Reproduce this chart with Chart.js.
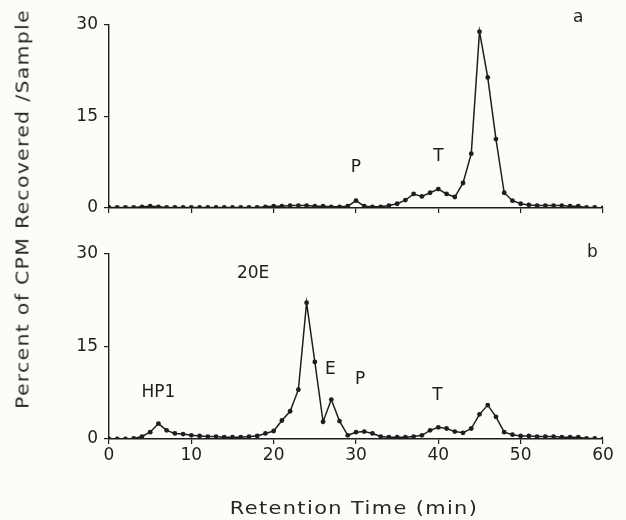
<!DOCTYPE html>
<html>
<head>
<meta charset="utf-8">
<script src="https://cdn.jsdelivr.net/npm/chart.js@4.4.1/dist/chart.umd.min.js"></script>
<style>
  html, body { margin: 0; padding: 0; background: #fdfcf8; }
  #figure { position: relative; width: 626px; height: 520px; background: #fdfcf8; overflow: hidden; }
  #panel-a-wrap { position: absolute; left: 0; top: 0; width: 626px; height: 232px; }
  #panel-b-wrap { position: absolute; left: 0; top: 232px; width: 626px; height: 288px; }
  .axis-title {
    position: absolute; white-space: nowrap; color: #262626;
    font: 18px 'DejaVu Sans'; letter-spacing: 1.2px;
  }
  #y-title {
    left: 22px; top: 209px;
    transform: translate(-50%, -50%) rotate(-90deg) scaleX(1.13);
  }
  #x-title {
    left: 354px; top: 507px;
    transform: translate(-50%, -50%) scaleX(1.16);
  }
</style>
</head>
<body>
<div id="figure">
  <div id="panel-a-wrap"><canvas id="panel-a"></canvas></div>
  <div id="panel-b-wrap"><canvas id="panel-b"></canvas></div>
  <div id="y-title" class="axis-title">Percent of CPM Recovered /Sample</div>
  <div id="x-title" class="axis-title">Retention Time (min)</div>
</div>
<script>
// fraction number (min) for every collected sample
const retentionTimes = [
  0, 1, 2, 3, 4, 5, 6, 7, 8, 9,
  10, 11, 12, 13, 14, 15, 16, 17, 18, 19,
  20, 21, 22, 23, 24, 25, 26, 27, 28, 29,
  30, 31, 32, 33, 34, 35, 36, 37, 38, 39,
  40, 41, 42, 43, 44, 45, 46, 47, 48, 49,
  50, 51, 52, 53, 54, 55, 56, 57, 58, 59, 60
];

// panel a
const percentA = [
  0.1, 0.1, 0.1, 0.1, 0.2, 0.3, 0.2, 0.1, 0.1, 0.1,
  0.1, 0.1, 0.1, 0.1, 0.1, 0.1, 0.1, 0.1, 0.1, 0.2,
  0.3, 0.3, 0.4, 0.4, 0.4, 0.3, 0.3, 0.2, 0.2, 0.3,
  1.2, 0.3, 0.2, 0.2, 0.4, 0.7, 1.3, 2.3, 1.9, 2.5,
  3.1, 2.3, 1.8, 4.1, 8.9, 28.9, 21.4, 11.3, 2.5, 1.2,
  0.7, 0.5, 0.4, 0.4, 0.4, 0.4, 0.3, 0.3, 0.1, 0.1, 0.0
];

// panel b
const percentB = [
  0.0, 0.0, 0.0, 0.1, 0.4, 1.1, 2.5, 1.4, 0.9, 0.8,
  0.6, 0.5, 0.4, 0.4, 0.3, 0.3, 0.3, 0.4, 0.5, 0.9,
  1.3, 3.0, 4.5, 8.0, 22.1, 12.5, 2.8, 6.4, 2.9, 0.6,
  1.1, 1.2, 0.9, 0.4, 0.3, 0.3, 0.3, 0.4, 0.6, 1.4,
  1.9, 1.7, 1.2, 1.0, 1.7, 4.0, 5.5, 3.6, 1.1, 0.7,
  0.5, 0.5, 0.4, 0.4, 0.4, 0.3, 0.3, 0.3, 0.1, 0.1, 0.0
];

const yTicks = [0, 15, 30];
const xTicks = [0, 10, 20, 30, 40, 50, 60];

// peak names, placed in data units
const labelsA = [
  { text: 'P', x: 30, y: 6.6 },
  { text: 'T', x: 40, y: 8.5 },
  { text: 'a', x: 57, y: 31.2 },
];
const labelsB = [
  { text: 'HP1', x: 6, y: 7.6 },
  { text: '20E', x: 17.5, y: 26.9 },
  { text: 'E', x: 26.9, y: 11.2 },
  { text: 'P', x: 30.5, y: 9.6 },
  { text: 'T', x: 39.9, y: 7.1 },
  { text: 'b', x: 58.7, y: 30.3 },
];

const INK = '#1e1e1e';
const FONT = "'DejaVu Sans'";

function peakLabelPlugin(items) {
  return {
    id: 'peakLabels',
    afterDatasetsDraw(chart) {
      const { ctx, scales: { x, y } } = chart;
      ctx.save();
      ctx.font = `17px ${FONT}`;
      ctx.fillStyle = INK;
      ctx.textAlign = 'center';
      ctx.textBaseline = 'middle';
      items.forEach((item) => {
        ctx.fillText(item.text, x.getPixelForValue(item.x), y.getPixelForValue(item.y));
      });
      ctx.restore();
    },
  };
}

function makePanel(canvasId, values, labels, opts) {
  const points = retentionTimes.map((t, i) => ({ x: t, y: values[i] }));
  return new Chart(document.getElementById(canvasId), {
    type: 'line',
    data: {
      datasets: [{
        data: points,
        borderColor: INK,
        borderWidth: 1.5,
        backgroundColor: INK,
        pointRadius: 2.4,
        pointBorderWidth: 0,
        pointBackgroundColor: INK,
        tension: 0,
        fill: false,
      }],
    },
    options: {
      responsive: true,
      maintainAspectRatio: false,
      animation: false,
      devicePixelRatio: 1,
      layout: { padding: { left: 0, right: 23, top: opts.top, bottom: 0 } },
      plugins: { legend: { display: false }, tooltip: { enabled: false } },
      scales: {
        x: {
          type: 'linear',
          min: 0,
          max: 60,
          afterBuildTicks: (s) => { s.ticks = xTicks.map((v) => ({ value: v })); },
          afterFit: (s) => { s.height = opts.xHeight; },
          grid: { display: true, drawOnChartArea: false, drawTicks: true, tickLength: 5, color: INK, lineWidth: 1.2 },
          border: { display: true, color: INK, width: 1.4 },
          ticks: {
            display: opts.showX,
            padding: 1,
            color: INK,
            maxRotation: 0,
            font: { family: FONT, size: 17 },
          },
        },
        y: {
          min: 0,
          max: 30,
          afterBuildTicks: (s) => { s.ticks = yTicks.map((v) => ({ value: v })); },
          afterFit: (s) => { s.width = 109; },
          grid: { display: true, drawOnChartArea: false, drawTicks: true, tickLength: 5, color: INK, lineWidth: 1.2 },
          border: { display: true, color: INK, width: 1.4 },
          ticks: {
            padding: 6,
            color: INK,
            font: { family: FONT, size: 17 },
          },
        },
      },
    },
    plugins: [peakLabelPlugin(labels)],
  });
}

makePanel('panel-a', percentA, labelsA, { top: 25, xHeight: 24, showX: false });
makePanel('panel-b', percentB, labelsB, { top: 22, xHeight: 81, showX: true });
</script>
</body>
</html>
